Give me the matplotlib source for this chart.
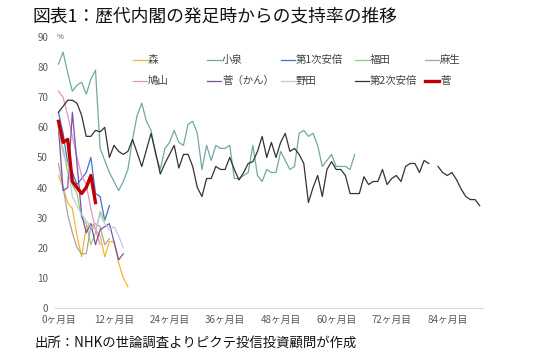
import matplotlib
matplotlib.use("Agg")
import matplotlib.pyplot as plt
from matplotlib.lines import Line2D
import numpy as np

plt.rcParams['font.family'] = ['Noto Sans CJK JP', 'DejaVu Sans']

nan = np.nan

# approval rating (%) by month since cabinet start
mori = [44, 40, 35, 33, 24, 17, 27, 28, 26, 24, 17, 22, 22, 15, 10, 7]
koizumi = [81, 85, 78, 72, 74, 75, 71, 76, 79, 53, 49, 45, 42, 39, 42, 46,
           56, 64, 68, 62, 59, 51, 46, 53, 55, 59, 55, 54, 61, 62, 58, 46,
           54, 49, 54, 53, 53, 54, 43, 43, 44, 45, 54, 44, 42, 46, 45, 45,
           52, 49, 46, 47, 58, 59, 57, 58, 54, 47, 49, 51, 47, 47, 47, 46, 51]
abe1 = [65, 58, 48, 45, 41, 43, 45, 50, 38, 37, 29, 34]
fukuda = [58, 53, 45, 41, 38, 30, 28, 21, 25, 32, 29]
aso = [48, 40, 31, 25, 20, 18, 18, 27, 28, 27, 21, 23]
hatoyama = [72, 70, 64, 57, 50, 44, 41, 33, 26, 21]
kan = [60, 39, 40, 65, 48, 31, 25, 28, 21, 26, 27, 28, 22, 16, 18]
noda = [60, 51, 48, 37, 34, 31, 29, 27, 26, 31, 28, 26, 27, 24, 20]
abe2 = [65, 67, 69, 69, 68, 64, 57, 57, 59, 58.5, 60, 50, 54, 52, 51, 52,
        56, 51.5, 47, 52.5, 58, 51.5, 44.5, 48, 51, 54, 46.5, 51, 51, 47,
        40, 37, 43, 43, 47, 46, 46, 50, 46, 42.5, 45, 48, 48.6, 52, 57, 50,
        55, 50, 55, 58, 52, 53, 51, 48, 35, 40, 44, 37, 46, 48.6, 46, 46,
        44, 38, 38, 38, 43.6, 41, 42, 42, 46, 41, 43, 44, 42, 47, 48, 48,
        45, 49, 48, nan, 47, 45, 44, 45, 42.6, 39.5, 37, 36, 36, 34]
suga = [62, 55, 56, 42, 40, 38, 40, 44, 35]

names = ['森', '小泉', '第1次安倍', '福田', '麻生',
         '鳩山', '菅（かん）', '野田', '第2次安倍', '菅']
series = [mori, koizumi, abe1, fukuda, aso, hatoyama, kan, noda, abe2, suga]
colors = ['#F5B52E', '#6FA9A5', '#4472C4', '#9ACD66', '#A6A6A6',
          '#E292C6', '#7B4FA6', '#B7CBEA', '#333333', '#C00000']
widths = [0.9] * 9 + [2.4]

xticks = [0, 12, 24, 36, 48, 60, 72, 84]
xlabels = ['%dヶ月目' % m for m in xticks]

fig = plt.figure(figsize=(5.5, 3.56), dpi=100)
ax = fig.add_axes([0.1, 0.135, 0.778, 0.761])

for vals, c, w in zip(series, colors, widths):
    ax.plot(np.arange(len(vals)), vals, color=c, lw=w, zorder=3 if w > 1 else 2)

ax.set_xlim(-0.75, 91.7)
ax.set_ylim(0, 90)
ax.set_yticks(range(0, 91, 10))
ax.set_xticks(xticks)
ax.set_xticklabels(xlabels)
ax.tick_params(length=0, labelsize=7, colors='#595959', pad=5)
for s in ['left', 'right', 'top']:
    ax.spines[s].set_visible(False)
ax.spines['bottom'].set_color('#D9D9D9')
ax.text(-0.4, 90, '%', fontsize=5.5, color='#595959', va='center', ha='left')

# legend drawn by hand, two rows of five
col_x = [133, 207, 281, 355, 425]
row_y = [60, 81]
W, H = 550.0, 356.0
for i, (n, c, w) in enumerate(zip(names, colors, widths)):
    x0 = col_x[i % 5]
    y0 = row_y[i // 5]
    fig.add_artist(Line2D([x0 / W, (x0 + 14) / W], [1 - y0 / H] * 2,
                          color=c, lw=w, transform=fig.transFigure))
    fig.text((x0 + 15) / W, 1 - y0 / H, n, fontsize=7.5, color='#404040',
             va='center', ha='left')

fig.text(32 / W, 1 - 17 / H, '図表1：歴代内閣の発足時からの支持率の推移',
         fontsize=12.8, va='center', ha='left', color='#111111')
fig.text(34 / W, 1 - 343 / H, '出所：NHKの世論調査よりピクテ投信投資顧問が作成',
         fontsize=9.6, va='center', ha='left', color='#111111')

fig.savefig('out.png', dpi=100)
